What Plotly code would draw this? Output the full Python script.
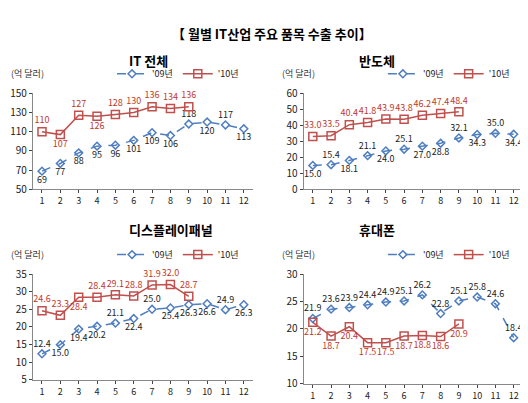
import plotly.graph_objects as go

months = list(range(1, 13))
it09 = [69, 77, 88, 95, 96, 101, 109, 106, 118, 120, 117, 113]
it10 = [110, 107, 127, 126, 128, 130, 136, 134, 136]
semi09 = [15.0, 15.4, 18.1, 21.1, 24.0, 25.1, 27.0, 28.8, 32.1, 34.3, 35.0, 34.4]
semi10 = [33.0, 33.5, 40.4, 41.8, 43.9, 43.8, 46.2, 47.4, 48.4]
disp09 = [12.4, 15.0, 19.4, 20.2, 21.1, 22.4, 25.0, 25.4, 26.3, 26.6, 24.9, 26.3]
disp10 = [24.6, 23.3, 28.4, 28.4, 29.1, 28.8, 31.9, 32.0, 28.7]
mob09 = [21.9, 23.6, 23.9, 24.4, 24.9, 25.1, 26.2, 22.8, 25.1, 25.8, 24.6, 18.4]
mob10 = [21.2, 18.7, 20.4, 17.5, 17.5, 18.7, 18.8, 18.6, 20.9]
titles = ["IT 전체", "반도체", "디스플레이패널", "휴대폰"]

B, T = "bottom center", "top center"
panels = [
    (it09, it10, [50, 150], 20, [B]*8 + [T, B, T, B], [T, B, T, B, T, T, T, T, T],
     [0.047, 0.464], [0.553, 0.801]),
    (semi09, semi10, [0, 60], 10, [B, T, B, T, B, T, B, B, T, B, T, B], [T]*9,
     [0.56, 0.975], [0.553, 0.801]),
    (disp09, disp10, [5, 35], 5, [T, B, B, B, T, B, T, B, B, B, T, B], [T, T, B, T, T, T, T, T, T],
     [0.047, 0.464], [0.062, 0.335]),
    (mob09, mob10, [10, 30], 5, [T]*12, [B]*9,
     [0.56, 0.975], [0.052, 0.335]),
]
blue, red = "#4F7EC0", "#C0504D"
fig = go.Figure()
anns = []
for i, (a, b, rng, dt, pa, pb, xd, yd) in enumerate(panels):
    n = "" if i == 0 else str(i + 1)
    lg = "legend" + n
    fig.add_trace(go.Scatter(x=months, y=a, mode="lines+markers+text", name="'09년",
        line=dict(color=blue, dash="dash", width=1.5),
        marker=dict(symbol="diamond-open", size=6, color=blue, line=dict(width=1.5)),
        text=[f"{v:g}" if i == 0 else f"{v:.1f}" for v in a], textposition=pa,
        textfont=dict(size=9, color="#222"), xaxis="x" + n, yaxis="y" + n, legend=lg, cliponaxis=False))
    fig.add_trace(go.Scatter(x=months[:len(b)], y=b, mode="lines+markers+text", name="'10년",
        line=dict(color=red, width=1.5),
        marker=dict(symbol="square-open", size=8, color=red, line=dict(width=1.5)),
        text=[f"{v:g}" if i == 0 else f"{v:.1f}" for v in b], textposition=pb,
        textfont=dict(size=9, color="#C0392B"), xaxis="x" + n, yaxis="y" + n, legend=lg, cliponaxis=False))
    fig.layout["xaxis" + n] = dict(domain=xd, anchor="y" + n, range=[0.5, 12.5], tickvals=months,
        showgrid=False, showline=True, linecolor="#888", ticks="outside", ticklen=3,
        tickfont=dict(size=9), zeroline=False)
    fig.layout["yaxis" + n] = dict(domain=yd, anchor="x" + n, range=rng, dtick=dt, tick0=rng[0],
        showgrid=False, showline=True, linecolor="#888", ticks="outside", ticklen=3,
        tickfont=dict(size=10), zeroline=False)
    fig.layout[lg] = dict(orientation="h", x=xd[0] + 0.15, y=yd[1] + 0.05, xanchor="left",
        yanchor="middle", font=dict(size=9), bgcolor="rgba(0,0,0,0)", itemwidth=30,
        tracegroupgap=0)
    anns.append(dict(text="(억 달러)", x=xd[0] - 0.045, y=yd[1] + 0.05, xref="paper", yref="paper",
        xanchor="left", yanchor="middle", showarrow=False, font=dict(size=9, color="#333")))
    anns.append(dict(text="<b>" + titles[i] + "</b>", x=(xd[0] + xd[1]) / 2 - 0.03, y=yd[1] + 0.115,
        xref="paper", yref="paper", showarrow=False, font=dict(size=13, color="#000")))
anns.append(dict(text="<b>【 월별 IT산업 주요 품목 수출 추이】</b>", x=0.5, y=0.985, xref="paper",
    yref="paper", showarrow=False, font=dict(size=13, color="#000")))
fig.update_layout(width=528, height=403, margin=dict(l=0, r=0, t=0, b=0), annotations=anns,
    plot_bgcolor="white", paper_bgcolor="white",
    font=dict(family="Noto Sans CJK KR, Noto Sans", color="#222"))
fig.write_html("out.html")
